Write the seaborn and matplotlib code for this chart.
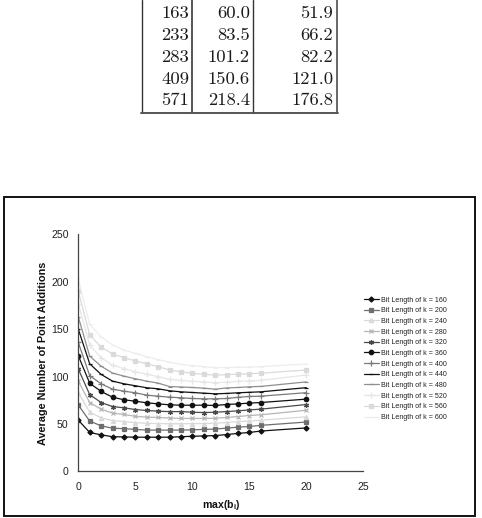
import matplotlib
matplotlib.use("Agg")
import matplotlib.pyplot as plt
import seaborn as sns
from matplotlib.lines import Line2D
from matplotlib.patches import Rectangle

# ---------------- data ----------------
max_b = [0, 1, 2, 3, 4, 5, 6, 7, 8, 9, 10, 11, 12, 13, 14, 15, 16, 20]

bit_lengths = [160, 200, 240, 280, 320, 360, 400, 440, 480, 520, 560, 600]

avg_160 = [54, 41, 38.5, 36.5, 36.3, 36, 36, 36, 36, 36.5, 37, 37.3, 37.7, 38.8, 40, 41, 42.5, 45.8]
avg_200 = [70, 53, 48, 45.5, 45, 44.2, 43.5, 43.5, 43.5, 43.5, 43.8, 44.2, 44.6, 45.6, 46.6, 47.3, 48.5, 52]
avg_240 = [83, 62.5, 56.5, 53.5, 52.5, 51.3, 50.7, 50.3, 50.2, 50.2, 50.3, 50.4, 50.8, 51.5, 52.5, 53, 54, 57.5]
avg_280 = [95, 72.6, 65.6, 61.4, 60, 58, 57.2, 56.8, 56.2, 55.8, 55.8, 55.8, 56, 56.8, 57.8, 58.9, 59.6, 64.5]
avg_320 = [108, 81, 72.6, 68.4, 67, 65.2, 64.2, 63.5, 63, 63, 62.4, 62, 62.4, 63, 63.8, 64.8, 65.6, 70.5]
avg_360 = [122, 93, 84.3, 78.3, 75.5, 74, 72.3, 71.2, 70.2, 69.8, 69.8, 69.8, 69.5, 70.5, 71.2, 72, 72.6, 76.2]
avg_400 = [136, 101, 92.4, 86.7, 84.6, 82.9, 80.4, 79.3, 78.3, 77.6, 76.9, 76.5, 76.5, 76.9, 78.1, 79, 79.3, 83]
avg_440 = [150, 113.5, 102.3, 95.2, 92.4, 90.3, 88.2, 87.1, 85, 83.9, 83.2, 82.5, 81.8, 82.2, 82.9, 83.4, 83.9, 88.3]
avg_480 = [163, 121.6, 111, 103.7, 100.5, 97.7, 95.2, 93.1, 89.5, 89, 88.5, 87.8, 86.7, 88, 88.5, 89.2, 89.6, 94.4]
avg_520 = [177, 133, 120, 112, 108.5, 105, 102.5, 100, 97, 96, 95, 94.5, 93.5, 94, 95, 95.5, 96, 101.7]
avg_560 = [190, 144, 131, 124, 120, 116.5, 113.5, 110.5, 107, 105, 103.5, 102.5, 101.5, 102, 102.5, 103, 103.5, 107]
avg_600 = [203, 155, 142, 133.5, 128, 124.5, 121, 118, 115, 113, 111.5, 110.5, 109.5, 109.5, 110, 110, 110.5, 113.3]

series = [avg_160, avg_200, avg_240, avg_280, avg_320, avg_360,
          avg_400, avg_440, avg_480, avg_520, avg_560, avg_600]

x_ticks = [0, 5, 10, 15, 20, 25]
y_ticks = [0, 50, 100, 150, 200, 250]

table_bits = ["163", "233", "283", "409", "571"]
table_col2 = ["60.0", "83.5", "101.2", "150.6", "218.4"]
table_col3 = ["51.9", "66.2", "82.2", "121.0", "176.8"]

# ---------------- styles ----------------
colors = ["#111111", "#6e6e6e", "#d9d9d9", "#b5b5b5", "#4a4a4a", "#111111",
          "#7a7a7a", "#111111", "#8f8f8f", "#e6e6e6", "#dadada", "#ededed"]
markers = ["D", "s", "^", "x", (6, 2, 0), "o", "+", "_", "_", "+", "s", "_"]
msizes = [2.6, 3.0, 3.0, 3.4, 3.6, 3.2, 3.8, 3.4, 3.4, 3.8, 3.0, 3.4]

sns.set_style("white")
plt.rcParams["font.family"] = ["Liberation Sans", "DejaVu Sans"]
plt.rcParams["mathtext.fontset"] = "custom"
plt.rcParams["mathtext.rm"] = "Liberation Sans"
plt.rcParams["mathtext.bf"] = "Liberation Sans:bold"
plt.rcParams["mathtext.it"] = "Liberation Sans:italic"

W, H = 482, 518
fig = plt.figure(figsize=(W / 100, H / 100), dpi=100)

def fx(px):
    return px / W

def fy(py):
    return 1 - py / H

# ---------------- table (top of page) ----------------
tcol = "#1a1a1a"
col_right = [189.3, 250.0, 333.3]
baselines = [18.5, 40.2, 61.9, 83.6, 105.3]
for i in range(len(table_bits)):
    for j, col in enumerate([table_bits, table_col2, table_col3]):
        fig.text(fx(col_right[j]), fy(baselines[i]), col[i], family="cmr10",
                 fontsize=13.4, ha="right", va="baseline", color=tcol)
for xv, lw, c in [(141.7, 1.0, "#333333"), (191.7, 1.4, "#555555"),
                  (253.3, 1.0, "#333333"), (337.0, 1.4, "#666666")]:
    fig.add_artist(Line2D([fx(xv), fx(xv)], [fy(0), fy(112.7)], lw=lw, color=c))
fig.add_artist(Line2D([fx(141.2), fx(337.5)], [fy(112.7), fy(112.7)], lw=1.4, color="#555555"))

# ---------------- chart frame ----------------
fig.add_artist(Rectangle((fx(3.5), fy(516)), fx(475) - fx(3.5), fy(197) - fy(516),
                         fill=False, lw=1.4, ec="#111111"))

# ---------------- chart ----------------
x0, x1 = 78.3, 363.3
ytop, ybot = 234.5, 471.3
ax = fig.add_axes([fx(x0), fy(ybot), fx(x1) - fx(x0), fy(ytop) - fy(ybot)])

for k, vals, c, m, ms in zip(bit_lengths, series, colors, markers, msizes):
    sns.lineplot(x=max_b, y=vals, ax=ax, color=c, marker=m, markersize=ms,
                 markeredgecolor=c, markerfacecolor=c, markeredgewidth=0.9,
                 linewidth=0.9, label=f"Bit Length of k = {k}")

ax.set_xlim(0, 25)
ax.set_ylim(0, 250)
ax.set_xticks(x_ticks)
ax.set_yticks(y_ticks)
ax.tick_params(axis="both", direction="out", length=3, width=0.8, color="#444444",
               labelsize=7.6, labelcolor="#222222")
ax.tick_params(axis="x", pad=5)
ax.tick_params(axis="y", pad=4)
for s in ["top", "right"]:
    ax.spines[s].set_visible(False)
for s in ["left", "bottom"]:
    ax.spines[s].set_color("#444444")
    ax.spines[s].set_linewidth(0.9)

ax.set_ylabel("Average Number of Point Additions", fontsize=7.8, fontweight="bold",
              color="#111111")
ax.set_xlabel(r"max(b$_\mathbf{i}$)", fontsize=7.6, fontweight="bold", color="#111111")
ax.yaxis.set_label_coords((48.3 - x0) / (x1 - x0), 0.5)
ax.xaxis.set_label_coords(0.5, (ybot - 498.5) / (ybot - ytop))

handles, labels = ax.get_legend_handles_labels()
leg = ax.legend(handles, labels, loc="upper left",
                bbox_to_anchor=(fx(364), fy(296.5)), bbox_transform=fig.transFigure,
                frameon=False, fontsize=5.1, handlelength=2.1, handletextpad=0.25,
                labelspacing=0.52, borderaxespad=0, borderpad=0)
for t in leg.get_texts():
    t.set_color("#222222")

fig.savefig("out.png", dpi=100)
